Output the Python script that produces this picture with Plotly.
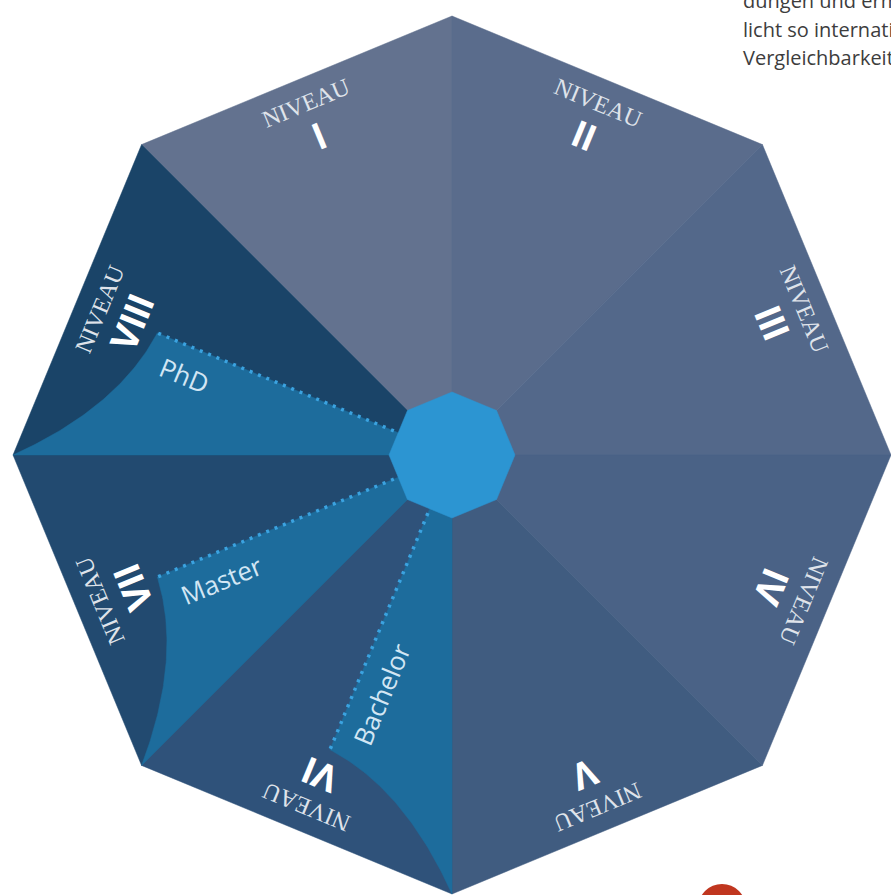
import numpy as np
import plotly.graph_objects as go

# levels of the qualification framework, clockwise from the top
levels = ["I", "II", "III", "IV", "V", "VI", "VII", "VIII"]
level_word = "NIVEAU"
# academic degrees and the level they belong to
degrees = ["PhD", "Master", "Bachelor"]
degree_levels = ["VIII", "VII", "VI"]
# cut-off body text in the top right corner
intro_lines = ["dungen und ermög-", "licht so internationale", "Vergleichbarkeit."]

sector_colors = ["#63728f", "#5a6c8c", "#53688a", "#4a6286",
                 "#405c80", "#2f527a", "#224a70", "#1a4468"]
degree_fill = "#1d6c9c"
core_color = "#2c95d2"
dot_color = "#3ba3e0"

R = 439        # outer octagon radius
CORE = 63      # centre octagon radius
DOT_R = 319    # end of the dotted degree line


def pol(r, deg):
    a = np.radians(deg)
    return r * np.cos(a), r * np.sin(a)


def mid_angle(k):
    return 112.5 - 45 * k


def norm(a):
    return ((a + 180) % 360) - 180


fig = go.Figure()

# octagon sectors
for k, lvl in enumerate(levels):
    phi = mid_angle(k)
    x0, y0 = pol(R, phi - 22.5)
    x1, y1 = pol(R, phi + 22.5)
    fig.add_trace(go.Scatter(
        x=[0, x0, x1, 0], y=[0, y0, y1, 0], mode="lines", fill="toself",
        fillcolor=sector_colors[k], line=dict(width=0.5, color=sector_colors[k]),
        hoverinfo="skip", showlegend=False))

# degree wedges with curved outer edge
t = np.linspace(0, 1, 60)
for name, lvl in zip(degrees, degree_levels):
    phi = mid_angle(levels.index(lvl))
    p0 = np.array(pol(DOT_R, phi))
    p1 = np.array(pol(337, phi + 14.4))
    p2 = np.array(pol(R, phi + 22.5))
    bx = (1 - t) ** 2 * p0[0] + 2 * (1 - t) * t * p1[0] + t ** 2 * p2[0]
    by = (1 - t) ** 2 * p0[1] + 2 * (1 - t) * t * p1[1] + t ** 2 * p2[1]
    fig.add_trace(go.Scatter(
        x=np.concatenate([[0], bx, [0]]), y=np.concatenate([[0], by, [0]]),
        mode="lines", fill="toself", fillcolor=degree_fill,
        line=dict(width=0.5, color=degree_fill),
        hoverinfo="skip", showlegend=False))
    xa, ya = pol(CORE, phi)
    xb, yb = pol(DOT_R, phi)
    fig.add_trace(go.Scatter(
        x=[xa, xb], y=[ya, yb], mode="lines",
        line=dict(width=3.5, color=dot_color, dash="3px,6px"),
        hoverinfo="skip", showlegend=False))

# centre octagon
ang = [90 + 45 * j for j in range(9)]
cx, cy = zip(*[pol(CORE, a) for a in ang])
fig.add_trace(go.Scatter(
    x=cx, y=cy, mode="lines", fill="toself", fillcolor=core_color,
    line=dict(width=0.5, color=core_color), hoverinfo="skip", showlegend=False))

# level labels
for k, lvl in enumerate(levels):
    phi = mid_angle(k)
    rot = norm(90 - phi)
    wx, wy = pol(381, phi)
    nx, ny = pol(345, phi)
    fig.add_annotation(x=wx, y=wy, text=level_word, showarrow=False, textangle=rot,
                       font=dict(family="Liberation Serif", size=24, color="#dfe3ea"))
    fig.add_annotation(x=nx, y=ny, text=lvl, showarrow=False, textangle=rot,
                       font=dict(family="Roboto", size=37, color="#ffffff", weight="bold"))

# degree labels
label_r = [280, 262, 250]
for name, lvl, r in zip(degrees, degree_levels, label_r):
    phi = mid_angle(levels.index(lvl)) % 360
    lx, ly = pol(r, phi + 6)
    fig.add_annotation(x=lx, y=ly, text=name, showarrow=False, textangle=norm(180 - phi),
                       font=dict(family="Open Sans", size=26, color="#d2e6f4"))

# body text, cut off at the right edge
for i, line in enumerate(intro_lines):
    fig.add_annotation(x=289, y=455 - (0.5 + 28.5 * i), text=line, showarrow=False,
                       xanchor="left", yanchor="middle",
                       font=dict(family="Open Sans", size=20, color="#3d3d3d"))

# red marker at the bottom
fig.add_shape(type="circle", x0=246, x1=294, y0=-477, y1=-429,
              fillcolor="#c0361f", line_width=0)

fig.update_xaxes(range=[-452, 439], visible=False, fixedrange=True)
fig.update_yaxes(range=[-440, 455], visible=False, fixedrange=True)
fig.update_layout(width=891, height=895, autosize=False,
                  margin=dict(l=0, r=0, t=0, b=0),
                  paper_bgcolor="white", plot_bgcolor="white")

fig.write_html("out.html", config={"displayModeBar": False},
               post_script="document.body.style.margin='0';")
